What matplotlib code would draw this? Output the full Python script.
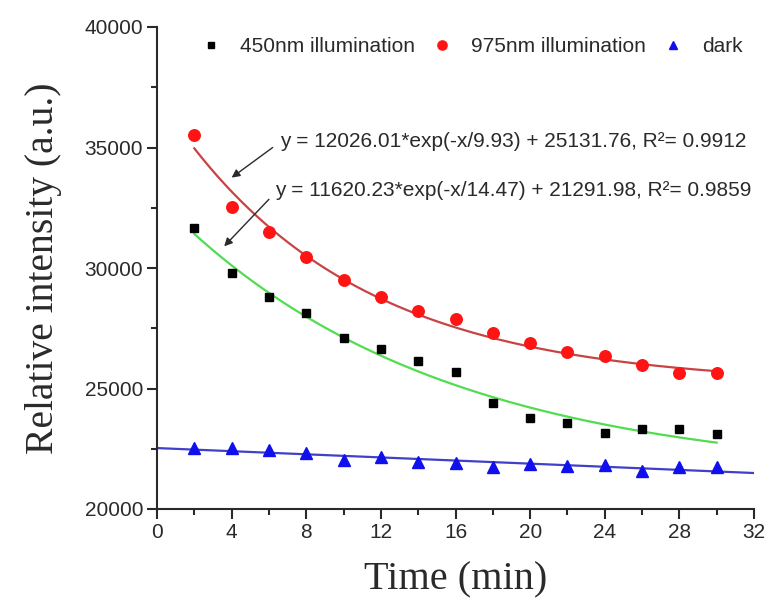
import numpy as np
import matplotlib
matplotlib.use("Agg")
import matplotlib.pyplot as plt
from matplotlib.ticker import MultipleLocator

# ---- data ----
time_min = [2, 4, 6, 8, 10, 12, 14, 16, 18, 20, 22, 24, 26, 28, 30]
ill_450 = [31660, 29790, 28800, 28130, 27100, 26640, 26160, 25700, 24400,
           23780, 23550, 23150, 23320, 23320, 23110]
ill_975 = [35520, 32530, 31490, 30460, 29500, 28800, 28220, 27880, 27300,
           26890, 26530, 26330, 25970, 25640, 25640]
dark = [22530, 22530, 22450, 22320, 22030, 22160, 21950, 21910, 21740,
        21870, 21780, 21830, 21580, 21740, 21740]

# fit parameters shown on the chart
fit_975 = (12026.01, 9.93, 25131.76, 0.9912)
fit_450 = (11620.23, 14.47, 21291.98, 0.9859)

series_labels = ["450nm illumination", "975nm illumination", "dark"]

plt.rcParams['font.family'] = ['Liberation Sans', 'DejaVu Sans']

W, H = 768, 608
fig = plt.figure(figsize=(7.68, 6.08), dpi=100)
left, right, bottom, top = 157, 754, 509, 27
ax = fig.add_axes([left / W, 1 - bottom / H, (right - left) / W, (bottom - top) / H])

t = np.array(time_min, dtype=float)
TXT = '#2a2a2a'

# fitted curves
tf = np.linspace(t.min(), t.max(), 200)
a, b, c, r2 = fit_975
ax.plot(tf, a * np.exp(-tf / b) + c, color='#c84444', lw=1.6, zorder=2)
a2, b2, c2, r22 = fit_450
ax.plot(tf, a2 * np.exp(-tf / b2) + c2, color='#50dd50', lw=1.6, zorder=2)
# linear fit of dark
k, m = np.polyfit(t, dark, 1)
tl = np.array([0.0, 32.0])
ax.plot(tl, k * tl + m, color='#4040c8', lw=1.6, zorder=2)

ax.plot(t, ill_450, 's', color='black', ms=6.2, ls='none', label=series_labels[0], zorder=3)
ax.plot(t, ill_975, 'o', color='#ff1414', ms=8.3, ls='none', label=series_labels[1], zorder=3)
ax.plot(t, dark, '^', color='#1010ee', ms=8, ls='none', label=series_labels[2], zorder=3)

ax.set_xlim(0, 32)
ax.set_ylim(20000, 40000)
ax.xaxis.set_major_locator(MultipleLocator(4))
ax.xaxis.set_minor_locator(MultipleLocator(2))
ax.yaxis.set_major_locator(MultipleLocator(5000))
ax.yaxis.set_minor_locator(MultipleLocator(2500))
ax.tick_params(which='major', direction='out', length=7, width=1.5, labelsize=15,
               colors=TXT, pad=3)
ax.tick_params(which='minor', direction='out', length=4, width=1.5, colors=TXT)
for s in ['top', 'right']:
    ax.spines[s].set_visible(False)
for s in ['left', 'bottom']:
    ax.spines[s].set_linewidth(1.5)
    ax.spines[s].set_color(TXT)

ax.set_xlabel("Time (min)", family='Liberation Serif', fontsize=29, color=TXT, labelpad=14)
ax.set_ylabel("Relative intensity (a.u.)", family='Liberation Serif', fontsize=28.5,
              color=TXT, labelpad=16)

# annotations
eq1 = "y = %.2f*exp(-x/%.2f) + %.2f, R\u00b2= %.4f" % fit_975
eq2 = "y = %.2f*exp(-x/%.2f) + %.2f, R\u00b2= %.4f" % fit_450
ax.text(6.6, 35230, eq1, fontsize=15, ha='left', va='center', color=TXT)
ax.text(6.35, 33235, eq2, fontsize=15, ha='left', va='center', color=TXT)
ax.annotate("", xy=(4.0, 33750), xytext=(6.2, 35000),
            arrowprops=dict(arrowstyle='-|>', color=TXT, lw=1.0, mutation_scale=12,
                            shrinkA=0, shrinkB=0))
ax.annotate("", xy=(3.6, 30900), xytext=(6.0, 32850),
            arrowprops=dict(arrowstyle='-|>', color=TXT, lw=1.0, mutation_scale=12,
                            shrinkA=0, shrinkB=0))

fs = 15
em = fs * 100 / 72
hl = 1.0
leg = ax.legend(loc='center left', bbox_to_anchor=((211 - hl * em / 2) / W, 1 - 47 / H),
                bbox_transform=fig.transFigure, ncol=3, frameon=False, fontsize=fs,
                handletextpad=(29 - hl * em / 2) / em, columnspacing=(27 - hl * em / 2) / em,
                handlelength=hl, markerscale=0.8, borderpad=0, borderaxespad=0)
for txt in leg.get_texts():
    txt.set_color(TXT)

fig.savefig("out.png", dpi=100)
